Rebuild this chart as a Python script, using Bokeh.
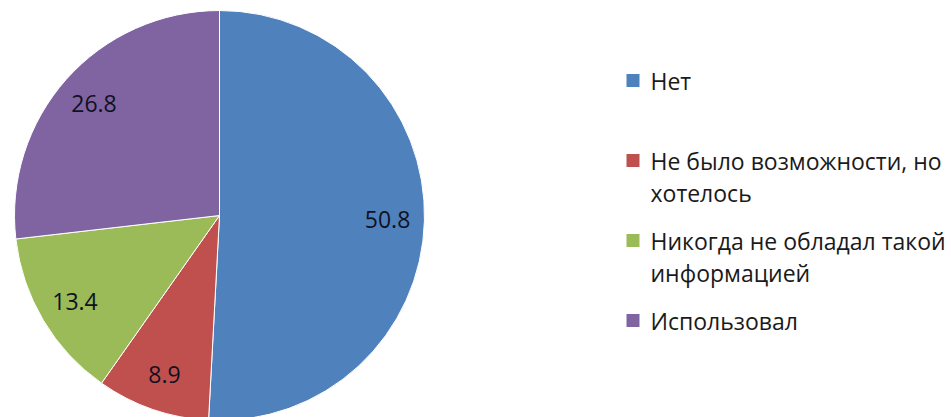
import math
from bokeh.plotting import figure
from bokeh.models import ColumnDataSource
from bokeh.core.properties import value
from bokeh.embed import file_html
from bokeh.resources import INLINE

# ---- data ----
categories = ["Нет", "Не было возможности, но хотелось",
              "Никогда не обладал такой информацией", "Использовал"]
values = [50.8, 8.9, 13.4, 26.8]
value_labels = ["50.8", "8.9", "13.4", "26.8"]
legend_lines = [["Нет"], ["Не было возможности, но", "хотелось"],
                ["Никогда не обладал такой", "информацией"], ["Использовал"]]
colors = ["#4F81BD", "#C0504D", "#9BBB59", "#8064A2"]

W, H = 951, 417
FONT = "Open Sans"

p = figure(width=W, height=H, x_range=(0, W), y_range=(0, H),
           output_backend="svg", toolbar_location=None, min_border=0,
           background_fill_color="white", border_fill_color="white")
p.axis.visible = False
p.grid.visible = False
p.outline_line_color = None

cx, cy, R = 219, 202, 205
total = sum(values)
starts, ends, lx, ly = [], [], [], []
cum = 0.0
for v in values:
    a0 = math.pi / 2 - 2 * math.pi * cum / total
    cum += v
    a1 = math.pi / 2 - 2 * math.pi * cum / total
    starts.append(a0)
    ends.append(a1)
    mid = (a0 + a1) / 2
    lx.append(cx + 0.82 * R * math.cos(mid))
    ly.append(cy + 0.82 * R * math.sin(mid))

src = ColumnDataSource(dict(start=starts, end=ends, color=colors,
                            lx=lx, ly=ly, lab=value_labels, cat=categories))
p.wedge(x=cx, y=cy, radius=R, start_angle="start", end_angle="end",
        direction="clock", fill_color="color", line_color="white",
        line_width=1, source=src)
p.text(x="lx", y="ly", text="lab", source=src, text_font=value(FONT),
       text_font_size="23px", text_color="#111122", text_align="center",
       text_baseline="middle")

# ---- legend (manual) ----
sq_x, txt_x, top_y, step, line_gap = 632.5, 650, 337, 80, 32
sqx, sqy, tx, ty, tt = [], [], [], [], []
for i, lines in enumerate(legend_lines):
    y0 = top_y - i * step
    sqx.append(sq_x)
    sqy.append(y0)
    for j, t in enumerate(lines):
        tx.append(txt_x)
        ty.append(y0 - j * line_gap)
        tt.append(t)
p.rect(x=sqx, y=sqy, width=13, height=13, fill_color=colors, line_color=None)
p.text(x=tx, y=ty, text=tt, text_font=value(FONT), text_font_size="23px",
       text_color="#1a1a1a", text_align="left", text_baseline="middle")

open("out.html", "w").write(file_html(p, INLINE))
